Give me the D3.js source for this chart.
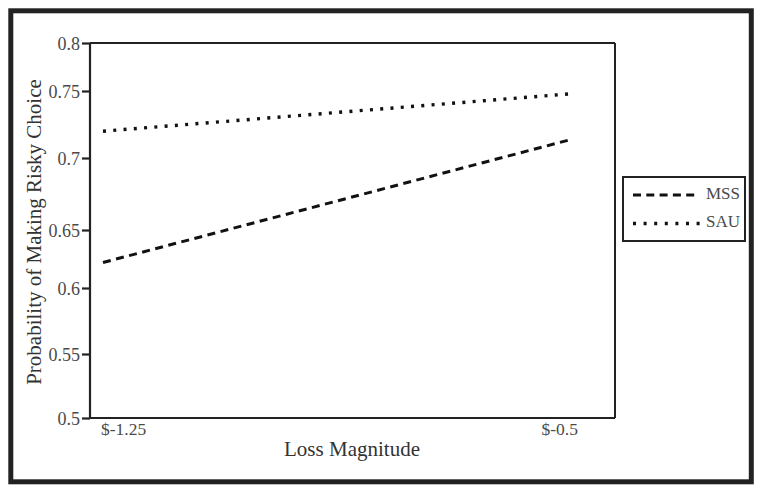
<!DOCTYPE html>
<html>
<head>
<meta charset="utf-8">
<script src="https://cdn.jsdelivr.net/npm/d3@7"></script>
<style>
  html, body { margin: 0; padding: 0; background: #fff; }
  svg { display: block; }
  text { font-family: "Liberation Serif", "Times New Roman", serif; }
</style>
</head>
<body>
<script>
// ---- data ----
const xCategories = [-1.25, -0.5];
const xTickLabels = ["$-1.25", "$-0.5"];
const seriesNames = ["MSS", "SAU"];
const mssValues = [0.622, 0.714];
const sauValues = [0.720, 0.748];
const yTicks = [0.5, 0.55, 0.6, 0.65, 0.7, 0.75, 0.8];
const yTickLabels = ["0.5", "0.55", "0.6", "0.65", "0.7", "0.75", "0.8"];

const W = 762, H = 494;
const svg = d3.select("body").append("svg").attr("width", W).attr("height", H);

// outer frame
svg.append("rect")
  .attr("x", 10.8).attr("y", 10.8).attr("width", 740.5).attr("height", 471)
  .attr("fill", "none").attr("stroke", "#222").attr("stroke-width", 5);

const pLeft = 90, pRight = 615, pTop = 43, pBottom = 418;

// axis scale (the source axis is drawn with slightly uneven tick spacing)
const y = d3.scaleLinear()
  .domain(yTicks)
  .range([418, 354, 288, 230, 158, 91, 43]);
const x = d3.scaleLinear().domain(xCategories).range([103, 572]);

// plot box
const ink = "#222";
svg.append("line").attr("x1", pLeft).attr("x2", pRight).attr("y1", pTop).attr("y2", pTop)
  .attr("stroke", ink).attr("stroke-width", 2);
svg.append("line").attr("x1", pRight).attr("x2", pRight).attr("y1", pTop).attr("y2", pBottom)
  .attr("stroke", ink).attr("stroke-width", 2);
svg.append("line").attr("x1", pLeft).attr("x2", pRight).attr("y1", pBottom).attr("y2", pBottom)
  .attr("stroke", ink).attr("stroke-width", 2);

// y axis
const yAxis = d3.axisLeft(y).tickValues(yTicks)
  .tickFormat((d, i) => yTickLabels[i]).tickSize(8).tickPadding(2);
const gy = svg.append("g").attr("transform", `translate(${pLeft},0)`).call(yAxis);
gy.select(".domain").attr("stroke", ink).attr("stroke-width", 2.2)
  .attr("d", `M0,${pTop}V${pBottom}`);
gy.selectAll(".tick line").attr("stroke", ink).attr("stroke-width", 2.2);
gy.selectAll(".tick text").attr("fill", "#4a4a4a")
  .style("font-family", "'Liberation Serif', serif").style("font-size", "18px")
  .attr("dy", "0.34em");

// x tick labels
svg.append("g").selectAll("text").data(xCategories).join("text")
  .attr("x", (d, i) => i === 0 ? x(d) - 2 : x(d) + 6)
  .attr("y", 435)
  .attr("text-anchor", (d, i) => i === 0 ? "start" : "end")
  .attr("fill", "#4a4a4a").style("font-size", "17.5px")
  .text((d, i) => xTickLabels[i]);

// axis titles
svg.append("text").attr("x", 352).attr("y", 456).attr("text-anchor", "middle")
  .attr("fill", "#333").style("font-size", "21px").text("Loss Magnitude");
svg.append("text").attr("transform", "translate(41,232) rotate(-90)")
  .attr("text-anchor", "middle").attr("fill", "#333").style("font-size", "21px")
  .text("Probability of Making Risky Choice");

// lines
const styles = {
  MSS: { dash: "8,5.5", width: 3 },
  SAU: { dash: "3,7.3", width: 3.4 }
};
const series = [
  { name: "MSS", values: mssValues },
  { name: "SAU", values: sauValues }
];
const line = d3.line().x((d, i) => x(xCategories[i])).y(d => y(d));
svg.append("g").selectAll("path").data(series).join("path")
  .attr("d", d => line(d.values))
  .attr("fill", "none").attr("stroke", "#111")
  .attr("stroke-width", d => styles[d.name].width)
  .attr("stroke-dasharray", d => styles[d.name].dash);

// legend
const lg = svg.append("g");
lg.append("rect").attr("x", 623).attr("y", 177).attr("width", 122).attr("height", 64)
  .attr("fill", "none").attr("stroke", ink).attr("stroke-width", 2);
const rows = lg.selectAll("g.row").data(seriesNames).join("g").attr("class", "row")
  .attr("transform", (d, i) => `translate(0,${195 + i * 28.5})`);
rows.append("line").attr("x1", 633).attr("x2", d => d === "MSS" ? 698 : 700)
  .attr("y1", 0).attr("y2", 0).attr("stroke", "#111")
  .attr("stroke-width", d => styles[d].width)
  .attr("stroke-dasharray", d => d === "MSS" ? "8,5.3" : "3,7.6");
rows.append("text").attr("x", 740).attr("y", 3.5).attr("text-anchor", "end")
  .attr("fill", "#4a4a4a").style("font-size", "17px").text(d => d);
</script>
</body>
</html>
